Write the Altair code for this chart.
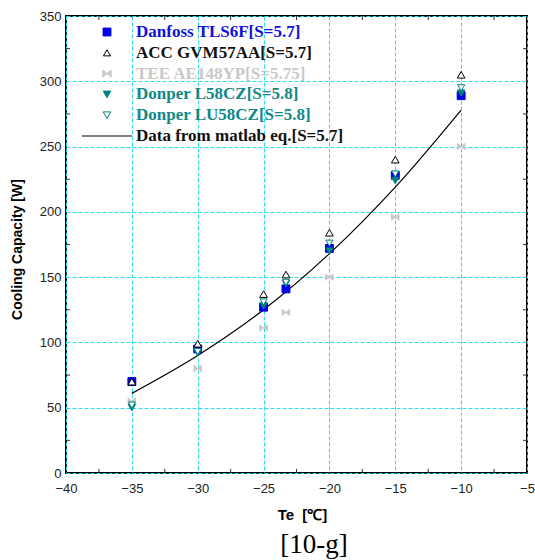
import altair as alt
import pandas as pd

# ---- measured cooling capacity [W] at evaporating temperature Te [°C] ----
te = [-35, -30, -25, -23.3, -20, -15, -10]
danfoss_tls6f = [70, 95, 127, 141, 172, 228, 289]
acc_gvm57aa = [70, 99, 137, 152, 184, 240, 305]
tee_ae148yp = [55, 80, 111, 123, 150, 196, 250]
donper_l58cz = [50, 92, 128, 145, 170, 224, 291]
donper_lu58cz = [52, 93, 131, 146, 176, 229, 295]

# ---- curve from the matlab equation ----
fit_te = [-35, -30, -25, -20, -15, -10]
fit_q = [61, 90, 125, 168, 219, 278]

# ---- axis ticks ----
x_major = [-40, -35, -30, -25, -20, -15, -10, -5]
y_major = [0, 50, 100, 150, 200, 250, 300, 350]
x_minor = [-37.5, -32.5, -27.5, -22.5, -17.5, -12.5, -7.5]
y_minor = [25, 75, 125, 175, 225, 275, 325]

series_names = [
    "Danfoss TLS6F[S=5.7]",
    "ACC GVM57AA[S=5.7]",
    "TEE AE148YP[S=5.75]",
    "Donper L58CZ[S=5.8]",
    "Donper LU58CZ[S=5.8]",
]
fit_name = "Data from matlab eq.[S=5.7]"
caption = "[10-g]"

BOWTIE = "M-1,-0.85L0,0L-1,0.85Z M1,-0.85L0,0L1,0.85Z"
style = {
    "Danfoss TLS6F[S=5.7]": dict(shape="square", fill="#0000F0", stroke="#0000C0", text="#1010E0", size=62),
    "ACC GVM57AA[S=5.7]": dict(shape="triangle-up", fill="white", stroke="black", text="#111111", size=50),
    "TEE AE148YP[S=5.75]": dict(shape=BOWTIE, fill="#C8C8C8", stroke="#C8C8C8", text="#C8C8C8", size=70),
    "Donper L58CZ[S=5.8]": dict(shape="triangle-down", fill="#008080", stroke="#008080", text="#108888", size=58),
    "Donper LU58CZ[S=5.8]": dict(shape="triangle-down", fill="white", stroke="#008080", text="#108888", size=58),
}
draw_order = [series_names[i] for i in (2, 0, 3, 4, 1)]

values = dict(zip(series_names, [danfoss_tls6f, acc_gvm57aa, tee_ae148yp, donper_l58cz, donper_lu58cz]))
points = pd.DataFrame(
    [{"te": t, "q": q, "series": name} for name in draw_order for t, q in zip(te, values[name])]
)
fit = pd.DataFrame({"te": fit_te, "q": fit_q})

W, H = 461, 457
GRID = "#2EDCEC"

xs = alt.Scale(domain=[-40, -5], nice=False, zero=False)
ys = alt.Scale(domain=[0, 350], nice=False)

x_axis = alt.Axis(
    values=x_major, grid=True, gridColor=GRID, gridDash=[4, 2], gridWidth=1,
    ticks=False, domain=False, labelFlush=False, labelOverlap=False,
    labelFont="Liberation Sans", labelFontSize=13, labelColor="#222222", labelPadding=9,
    title="Te\u00a0\u00a0[\u2103]", titleFont="Liberation Sans", titleFontSize=15,
    titleFontWeight="bold", titleColor="black", titleX=236, titleY=46,
    titleAlign="center", titleBaseline="alphabetic",
)
y_axis = alt.Axis(
    values=y_major, grid=True, gridColor=GRID, gridDash=[4, 2], gridWidth=1,
    ticks=False, domain=False, labelFlush=False, labelOverlap=False,
    labelFont="Liberation Sans", labelFontSize=13, labelColor="#222222", labelPadding=5,
    title="Cooling Capacity [W]", titleFont="Liberation Sans", titleFontSize=14,
    titleFontWeight="bold", titleColor="black", titleX=-45, titleY=233,
    titleAlign="center", titleBaseline="alphabetic", titleAngle=270,
)
X = alt.X("te:Q", scale=xs, axis=x_axis)
Y = alt.Y("q:Q", scale=ys, axis=y_axis)

curve = alt.Chart(fit).mark_line(color="black", strokeWidth=1.2, interpolate="monotone").encode(x=X, y=Y)

markers = alt.Chart(points).mark_point(opacity=1, fillOpacity=1, strokeWidth=1).encode(
    x=X,
    y=Y,
    shape=alt.Shape("series:N", scale=alt.Scale(domain=series_names, range=[style[n]["shape"] for n in series_names]), legend=None),
    fill=alt.Fill("series:N", scale=alt.Scale(domain=series_names, range=[style[n]["fill"] for n in series_names]), legend=None),
    stroke=alt.Stroke("series:N", scale=alt.Scale(domain=series_names, range=[style[n]["stroke"] for n in series_names]), legend=None),
    size=alt.Size("series:N", scale=alt.Scale(domain=series_names, range=[style[n]["size"] for n in series_names]), legend=None),
)

# inward minor ticks on all four sides of the frame
tick_color = "#333333"
xm = pd.DataFrame({"te": x_minor})
ym = pd.DataFrame({"q": y_minor})
ticks_bottom = alt.Chart(xm).mark_rule(color=tick_color).encode(x=X, y=alt.value(H - 4), y2=alt.value(H))
ticks_top = alt.Chart(xm).mark_rule(color=tick_color).encode(x=X, y=alt.value(0), y2=alt.value(4))
ticks_left = alt.Chart(ym).mark_rule(color=tick_color).encode(y=Y, x=alt.value(0), x2=alt.value(4))
ticks_right = alt.Chart(ym).mark_rule(color=tick_color).encode(y=Y, x=alt.value(W - 4), x2=alt.value(W))

plot = alt.layer(curve, markers, ticks_bottom, ticks_top, ticks_left, ticks_right)

# ---- key drawn inside the plot, top-left ----
key = pd.DataFrame({
    "row": list(range(len(series_names))),
    "label": series_names,
    "shape": [style[n]["shape"] for n in series_names],
    "fill": [style[n]["fill"] for n in series_names],
    "stroke": [style[n]["stroke"] for n in series_names],
    "size": [style[n]["size"] for n in series_names],
    "color": [style[n]["text"] for n in series_names],
})
key_fit = pd.DataFrame({"row": [len(series_names)], "label": [fit_name], "color": ["#111111"]})
row_scale = alt.Scale(domain=[0, 5], range=[16, 120])
KY = alt.Y("row:Q", scale=row_scale, axis=None)

key_symbols = alt.Chart(key).mark_point(opacity=1, fillOpacity=1, strokeWidth=1).encode(
    x=alt.value(41), y=KY,
    shape=alt.Shape("shape:N", scale=None),
    fill=alt.Fill("fill:N", scale=None),
    stroke=alt.Stroke("stroke:N", scale=None),
    size=alt.Size("size:Q", scale=None),
)
key_line = alt.Chart(key_fit).mark_rule(color="black", strokeWidth=1.2).encode(
    x=alt.value(16), x2=alt.value(66), y=KY
)
key_text = alt.Chart(pd.concat([key[["row", "label", "color"]], key_fit])).mark_text(
    align="left", baseline="middle", font="Liberation Serif", fontWeight="bold", fontSize=17
).encode(x=alt.value(70), y=KY, text="label:N", color=alt.Color("color:N", scale=None))

caption_text = alt.Chart(pd.DataFrame({"t": [caption]})).mark_text(
    font="Liberation Serif", fontSize=27, align="center", baseline="alphabetic", color="black"
).encode(x=alt.value(248), y=alt.value(537), text="t:N")

legend_layer = alt.layer(key_symbols, key_line, key_text, caption_text)

chart = (
    alt.layer(plot, legend_layer)
    .resolve_scale(y="independent")
    .properties(
        width=W, height=H,
        padding={"left": 66, "top": 16, "right": 8, "bottom": 87},
        autosize=alt.AutoSizeParams(type="none"),
        background="white",
    )
    .configure_view(stroke="black", strokeWidth=2)
)

chart.save("out.html", embed_options={"renderer": "svg", "actions": False})
